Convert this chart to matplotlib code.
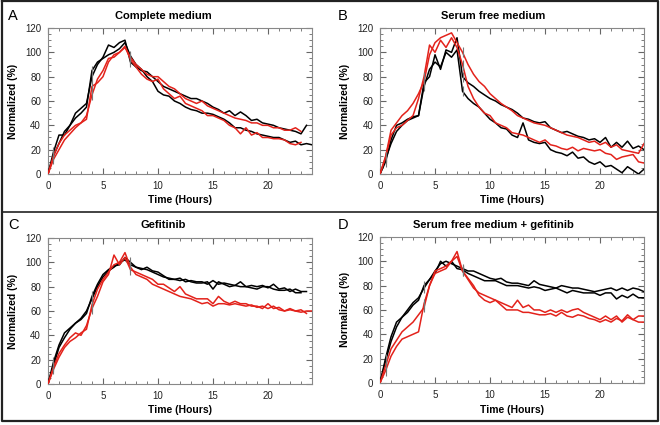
import numpy as np
import matplotlib
matplotlib.use('Agg')
from matplotlib import pyplot as plt
from matplotlib.ticker import MultipleLocator
from matplotlib.lines import Line2D

plt.rcParams['font.family'] = ['Liberation Sans', 'DejaVu Sans']

# time axis (hours), one reading every half hour
horas = [0.0, 0.5, 1.0, 1.5, 2.0, 2.5, 3.0, 3.5, 4.0, 4.5, 5.0, 5.5, 6.0, 6.5, 7.0, 7.5,
         8.0, 8.5, 9.0, 9.5, 10.0, 10.5, 11.0, 11.5, 12.0, 12.5, 13.0, 13.5, 14.0, 14.5,
         15.0, 15.5, 16.0, 16.5, 17.0, 17.5, 18.0, 18.5, 19.0, 19.5, 20.0, 20.5, 21.0,
         21.5, 22.0, 22.5, 23.0, 23.5, 24.0]

titulos = ['Complete medium', 'Serum free medium', 'Gefitinib', 'Serum free medium + gefitinib']
letras = ['A', 'B', 'C', 'D']

# A - complete medium
a_preto1 = [0, 18, 32, 32, 40, 50, 54, 58, 80, 90, 96, 106, 104, 108, 110, 92, 88, 85, 84, 80,
            76, 72, 70, 68, 66, 64, 62, 62, 60, 58, 55, 53, 50, 52, 48, 51, 48, 44, 45, 42,
            41, 40, 38, 37, 36, 35, 33, 40]
a_preto2 = [0, 15, 25, 35, 40, 46, 50, 55, 85, 92, 95, 98, 100, 103, 108, 97, 90, 86, 80, 76,
            68, 65, 64, 60, 58, 55, 53, 52, 50, 50, 49, 47, 45, 42, 38, 38, 36, 35, 33, 32,
            31, 30, 30, 28, 26, 27, 24, 25, 24]
a_verm1 = [0, 15, 25, 32, 36, 40, 42, 48, 65, 78, 85, 95, 96, 100, 104, 96, 90, 86, 82, 80,
           80, 76, 72, 70, 66, 62, 60, 58, 60, 56, 54, 52, 50, 48, 46, 45, 44, 42, 42, 40,
           40, 38, 38, 36, 36, 38, 35]
a_verm2 = [0, 12, 20, 28, 33, 38, 42, 45, 72, 75, 80, 92, 98, 100, 105, 94, 88, 82, 78, 76,
           78, 70, 66, 62, 64, 58, 56, 54, 52, 48, 48, 46, 44, 40, 38, 33, 38, 32, 34, 30,
           30, 29, 29, 28, 25, 24, 26]

# B - serum free medium
b_preto1 = [0, 12, 25, 35, 40, 44, 46, 48, 75, 80, 98, 86, 102, 100, 112, 80, 75, 72, 68, 65,
            62, 60, 57, 55, 53, 50, 46, 45, 43, 42, 43, 38, 36, 34, 35, 33, 31, 30, 28, 29,
            26, 30, 22, 26, 22, 27, 21, 23, 20]
b_preto2 = [0, 10, 28, 40, 42, 45, 47, 48, 72, 86, 92, 88, 100, 96, 102, 68, 62, 58, 55, 50,
            45, 42, 38, 37, 32, 30, 42, 28, 26, 25, 26, 20, 18, 17, 15, 18, 13, 14, 10, 8,
            10, 6, 7, 4, 1, 6, 3, 0, 4]
b_verm1 = [0, 14, 36, 42, 48, 52, 58, 66, 76, 98, 108, 112, 114, 116, 108, 100, 90, 82, 76, 72,
           66, 62, 58, 55, 52, 48, 46, 44, 42, 41, 40, 38, 36, 34, 32, 31, 30, 28, 26, 27,
           24, 26, 22, 24, 20, 19, 18, 17, 25]
b_verm2 = [0, 14, 32, 38, 40, 44, 48, 62, 80, 106, 100, 110, 104, 112, 104, 90, 72, 62, 55, 50,
           48, 42, 40, 38, 34, 33, 32, 30, 28, 26, 28, 24, 23, 21, 20, 22, 19, 21, 20, 19,
           20, 17, 16, 12, 14, 15, 16, 10, 9]

# C - gefitinib
c_preto1 = [0, 18, 32, 42, 46, 50, 54, 60, 70, 80, 88, 93, 96, 100, 102, 98, 96, 95, 94, 92,
            90, 88, 87, 86, 87, 84, 85, 84, 84, 82, 85, 82, 83, 82, 81, 84, 80, 81, 80, 81,
            79, 82, 78, 79, 76, 78, 76, 76]
c_preto2 = [0, 15, 30, 38, 45, 50, 53, 58, 72, 82, 90, 94, 97, 98, 104, 100, 96, 94, 96, 93,
            92, 89, 86, 86, 85, 86, 84, 83, 83, 84, 78, 84, 82, 80, 81, 80, 80, 79, 78, 80,
            80, 78, 77, 77, 78, 75, 75]
c_verm1 = [0, 12, 22, 30, 35, 38, 42, 45, 65, 78, 86, 92, 98, 100, 108, 96, 90, 88, 86, 82,
           80, 78, 76, 74, 72, 71, 70, 68, 66, 67, 64, 66, 66, 65, 66, 65, 64, 65, 63, 64,
           62, 64, 61, 60, 61, 60, 59, 60, 60]
c_verm2 = [0, 14, 25, 32, 38, 42, 40, 48, 62, 72, 84, 90, 106, 98, 104, 94, 92, 90, 88, 86,
           82, 82, 79, 76, 80, 74, 72, 70, 70, 70, 66, 72, 68, 66, 68, 66, 66, 64, 64, 62,
           66, 62, 63, 60, 62, 60, 61, 58]

# D - serum free medium + gefitinib
d_preto1 = [0, 20, 38, 50, 54, 58, 64, 68, 80, 85, 92, 98, 100, 98, 96, 94, 92, 92, 90, 88,
            86, 85, 86, 83, 82, 82, 81, 80, 84, 81, 80, 79, 78, 80, 79, 78, 78, 77, 76, 75,
            76, 77, 78, 76, 78, 76, 78, 77, 75]
d_preto2 = [0, 18, 34, 46, 54, 60, 66, 70, 78, 85, 90, 100, 96, 100, 94, 93, 90, 88, 86, 84,
            84, 84, 82, 80, 80, 80, 79, 78, 79, 78, 76, 77, 78, 76, 74, 76, 75, 74, 74, 74,
            72, 74, 74, 69, 72, 70, 73, 70, 70]
d_verm1 = [0, 14, 28, 35, 42, 46, 50, 56, 62, 80, 92, 94, 96, 100, 104, 92, 85, 78, 74, 72,
           70, 68, 66, 64, 62, 68, 62, 64, 60, 60, 58, 60, 58, 60, 58, 60, 61, 58, 56, 54,
           52, 55, 52, 55, 50, 54, 52, 55, 55]
d_verm2 = [0, 10, 22, 30, 36, 38, 40, 42, 65, 80, 90, 92, 94, 100, 108, 92, 86, 80, 72, 68,
           66, 68, 64, 60, 60, 60, 58, 58, 57, 56, 56, 57, 55, 58, 55, 54, 56, 55, 53, 52,
           50, 52, 50, 53, 51, 56, 52, 50, 50]

paineis = [
    [a_preto1, a_preto2, a_verm1, a_verm2],
    [b_preto1, b_preto2, b_verm1, b_verm2],
    [c_preto1, c_preto2, c_verm1, c_verm2],
    [d_preto1, d_preto2, d_verm1, d_verm2],
]
cores = ['black', 'black', '#e3221b', '#e3221b']

fig = plt.figure(figsize=(6.6, 4.25), dpi=100)

# moldura externa e divisoria horizontal
fig.add_artist(Line2D([0.003, 0.997, 0.997, 0.003, 0.003], [0.997, 0.997, 0.01, 0.01, 0.997],
                      transform=fig.transFigure, color='#222222', linewidth=1.6))
fig.add_artist(Line2D([0.003, 0.997], [0.502, 0.502], transform=fig.transFigure,
                      color='#222222', linewidth=1.2))

posicoes = [
    [0.0727, 0.5906, 0.40, 0.3435],
    [0.5758, 0.5906, 0.40, 0.3435],
    [0.0727, 0.0965, 0.40, 0.3435],
    [0.5758, 0.0990, 0.40, 0.3435],
]
centros_x = [0.247, 0.747, 0.247, 0.747]
topo_y = [0.963, 0.963, 0.470, 0.470]
base_label = [0.53, 0.53, 0.035, 0.035]

for i, pos in enumerate(posicoes):
    ax = fig.add_axes(pos)
    for serie, cor in zip(paineis[i], cores):
        t = horas[:len(serie)]
        ax.plot(t, serie, color=cor, linewidth=1.1, zorder=3)
        # pequenas marcas cinzas nos pontos de troca de meio
        marcas = [k for k in (1, 8, 15) if k < len(serie)]
        ax.plot([t[k] for k in marcas], [serie[k] for k in marcas], linestyle='none',
                marker='|', markersize=7, color='#777777', markeredgewidth=0.8, zorder=4)

    ax.set_xlim(0, 24)
    ax.set_ylim(0, 120)
    ax.xaxis.set_major_locator(MultipleLocator(5))
    ax.xaxis.set_minor_locator(MultipleLocator(1))
    ax.yaxis.set_major_locator(MultipleLocator(20))
    ax.yaxis.set_minor_locator(MultipleLocator(5))
    ax.tick_params(which='both', direction='in', top=True, right=True, colors='#666666',
                   labelcolor='#222222', labelsize=7)
    ax.tick_params(which='major', length=4, width=0.8, pad=5)
    ax.tick_params(which='minor', length=2, width=0.6)
    for sp in ax.spines.values():
        sp.set_color('#888888')
        sp.set_linewidth(0.8)

    fig.text(centros_x[i], topo_y[i], titulos[i], ha='center', va='center',
             fontsize=8, fontweight='bold')
    x_letra = 0.012 if i % 2 == 0 else 0.512
    fig.text(x_letra, topo_y[i], letras[i], ha='left', va='center', fontsize=10.5)
    fig.text(pos[0] + pos[2] / 2, base_label[i], 'Time (Hours)', ha='center', va='center',
             fontsize=7.5, fontweight='bold')
    fig.text(pos[0] - 0.053, pos[1] + pos[3] / 2, 'Normalized (%)', ha='center', va='center',
             rotation=90, fontsize=7.5, fontweight='bold')

plt.savefig('out.png', dpi=100)
